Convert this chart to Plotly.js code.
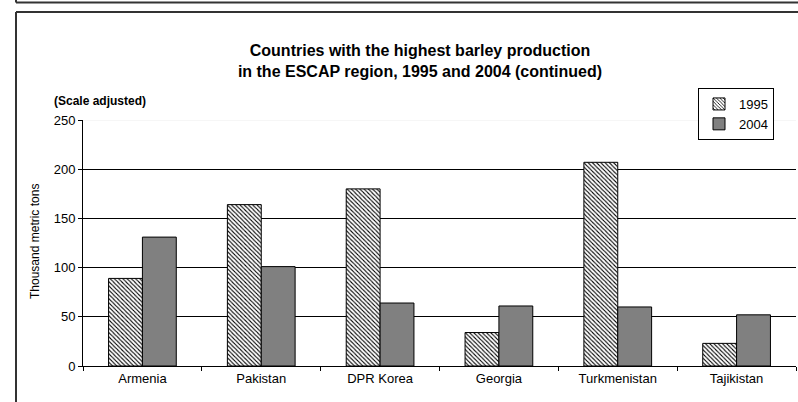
<!DOCTYPE html>
<html>
<head>
<meta charset="utf-8">
<script src="https://cdn.plot.ly/plotly-3.0.1.min.js"></script>
<style>html,body{margin:0;padding:0;background:#fff;}#chart{width:798px;height:402px;}</style>
</head>
<body>
<div id="chart"></div>
<script>
const countries = ["Armenia", "Pakistan", "DPR Korea", "Georgia", "Turkmenistan", "Tajikistan"];
const values1995 = [89, 164, 180, 34, 207, 23];
const values2004 = [131, 101, 64, 61, 60, 52];
const yTicks = [0, 50, 100, 150, 200, 250];

const L = 83, R = 796, T = 120, B = 366;
const px = x => (x - L) / (R - L);
const py = y => (B - y) / (B - T);

const font = "Liberation Sans, Arial, sans-serif";

const traces = [
  {
    type: "bar", name: "1995", x: countries, y: values1995,
    marker: {
      color: "#ffffff",
      line: {color: "#000", width: 1},
      pattern: {shape: "\\", fgcolor: "#000", bgcolor: "#fff", size: 3, solidity: 0.35}
    }
  },
  {
    type: "bar", name: "2004", x: countries, y: values2004,
    marker: {color: "#808080", line: {color: "#000", width: 1}}
  }
];

const frameColor = "#333";
const layout = {
  width: 798, height: 402,
  margin: {l: L, r: 798 - R, t: T, b: 402 - B, pad: 0},
  paper_bgcolor: "#fff", plot_bgcolor: "#fff",
  font: {family: font, color: "#000", size: 12},
  barmode: "group",
  bargap: 0.43,
  bargroupgap: 0,
  title: {
    text: "<b>Countries with the highest barley production<br>in the ESCAP region, 1995 and 2004 (continued)</b>",
    font: {family: font, size: 16, color: "#000"},
    x: 420 / 798, xref: "container", xanchor: "center",
    y: 1 - 56 / 402, yref: "container", yanchor: "middle"
  },
  xaxis: {
    type: "category",
    showline: true, linecolor: "#000", linewidth: 1,
    ticks: "outside", tickson: "boundaries", ticklen: 4, tickcolor: "#000",
    tickfont: {family: font, size: 13, color: "#000"},
    showgrid: false, fixedrange: true
  },
  yaxis: {
    range: [0, 250],
    tickvals: yTicks,
    showline: true, linecolor: "#000", linewidth: 1,
    ticks: "outside", ticklen: 4, tickcolor: "#000",
    tickfont: {family: font, size: 13, color: "#000"},
    showgrid: true, gridcolor: "#000", gridwidth: 1,
    zeroline: false, fixedrange: true
  },
  showlegend: true,
  legend: {
    x: px(774), xanchor: "right", xref: "paper",
    y: py(88), yanchor: "top", yref: "paper",
    bordercolor: "#000", borderwidth: 1, bgcolor: "#fff",
    font: {family: font, size: 13, color: "#000"},
    tracegroupgap: 0, itemwidth: 30
  },
  annotations: [
    {
      text: "<b>(Scale adjusted)</b>", xref: "paper", yref: "paper",
      x: px(52), y: py(101), xanchor: "left", yanchor: "middle",
      showarrow: false, font: {family: font, size: 12, color: "#000"}
    },
    {
      text: "Thousand metric tons", xref: "paper", yref: "paper",
      x: px(35), y: py(242), xanchor: "center", yanchor: "middle",
      textangle: -90, showarrow: false, font: {family: font, size: 12, color: "#000"}
    }
  ],
  shapes: [
    {type: "line", xref: "paper", yref: "y", x0: 0, x1: 1, y0: 250, y1: 250,
     line: {color: "#eeeeee", width: 1}, layer: "above"},
    {type: "line", xref: "paper", yref: "paper", x0: px(16), x1: px(830), y0: py(2.5), y1: py(2.5),
     line: {color: frameColor, width: 2}},
    {type: "line", xref: "paper", yref: "paper", x0: px(16), x1: px(16), y0: py(-5), y1: py(2.5),
     line: {color: frameColor, width: 2}},
    {type: "line", xref: "paper", yref: "paper", x0: px(16), x1: px(830), y0: py(12), y1: py(12),
     line: {color: frameColor, width: 2}},
    {type: "line", xref: "paper", yref: "paper", x0: px(16), x1: px(16), y0: py(12), y1: py(420),
     line: {color: frameColor, width: 2}}
  ]
};

Plotly.newPlot("chart", traces, layout, {displayModeBar: false, staticPlot: true});
</script>
</body>
</html>
